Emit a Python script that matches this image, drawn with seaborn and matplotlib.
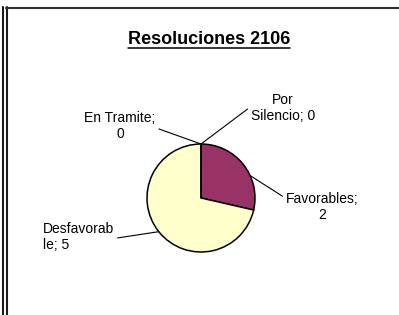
import numpy as np
import matplotlib
matplotlib.use('Agg')
import matplotlib.pyplot as plt
from matplotlib.lines import Line2D
import seaborn as sns

title = 'Resoluciones 2106'
categories = ['Por Silencio', 'Favorables', 'Desfavorable', 'En Tramite']
values = [0, 2, 5, 0]
label_text = ['Por\nSilencio; 0', 'Favorables;\n2', 'Desfavorab\nle; 5', 'En Tramite;\n0']
colors = ['#FFFFFF', '#993366', '#FFFFCC', '#FFFFFF']

sns.set_theme(style='white')
plt.rcParams['font.family'] = ['Liberation Sans', 'DejaVu Sans']

W, H = 399, 315
fig = plt.figure(figsize=(W / 100, H / 100), dpi=100)
ax = fig.add_axes([0, 0, 1, 1])

# pie centre / radius in pixels
cx, cy, r = 201, 198, 54
wedges, _ = ax.pie(values, colors=colors, startangle=90, counterclock=False,
                   radius=1, wedgeprops=dict(edgecolor='black', linewidth=1.1))
ax.set_xlim(-cx / r, (W - cx) / r)
ax.set_ylim(-(H - cy) / r, cy / r)
ax.set_aspect('equal')
ax.axis('off')

def px(x, y):
    return ((x - cx) / r, (cy - y) / r)

# label layout: text position (px), alignment, leader relpos, anchor angle offset
layout = [
    dict(xy=(283, 108), ha='center', relpos=(0.0, 0.55), off=0),
    dict(xy=(322, 207), ha='center', relpos=(0.0, 0.8), off=-14),
    dict(xy=(43, 237), ha='left', relpos=(1.0, 0.45), off=0),
    dict(xy=(120, 126), ha='center', relpos=(0.93, 0.5), off=0),
]

for w, txt, lay in zip(wedges, label_text, layout):
    ang = np.deg2rad((w.theta1 + w.theta2) / 2 + lay['off'])
    ax.annotate(txt, xy=(np.cos(ang), np.sin(ang)), xytext=px(*lay['xy']),
                ha=lay['ha'], va='center', multialignment=lay['ha'],
                fontsize=10, color='black', linespacing=1.1,
                arrowprops=dict(arrowstyle='-', color='black', lw=0.8,
                                shrinkA=0, shrinkB=0, relpos=lay['relpos']))

t = fig.text(209 / W, 1 - 40 / H, title, ha='center', va='center',
             fontsize=13, fontweight='bold', color='black')
fig.canvas.draw()
bb = t.get_window_extent()
fig.add_artist(Line2D([bb.x0 / W, bb.x1 / W], [1 - 47.5 / H, 1 - 47.5 / H],
                      transform=fig.transFigure, color='black', lw=1.1))

# chart frame remnants
for x in (2.5, 6.5):
    fig.add_artist(Line2D([x / W, x / W], [0, 1 - 7 / H], transform=fig.transFigure,
                          color='#1a1a1a', lw=1.5))
fig.add_artist(Line2D([6 / W, 1], [1 - 8 / H, 1 - 8 / H], transform=fig.transFigure,
                      color='#333333', lw=1.5))

fig.savefig('out.png', dpi=100)
